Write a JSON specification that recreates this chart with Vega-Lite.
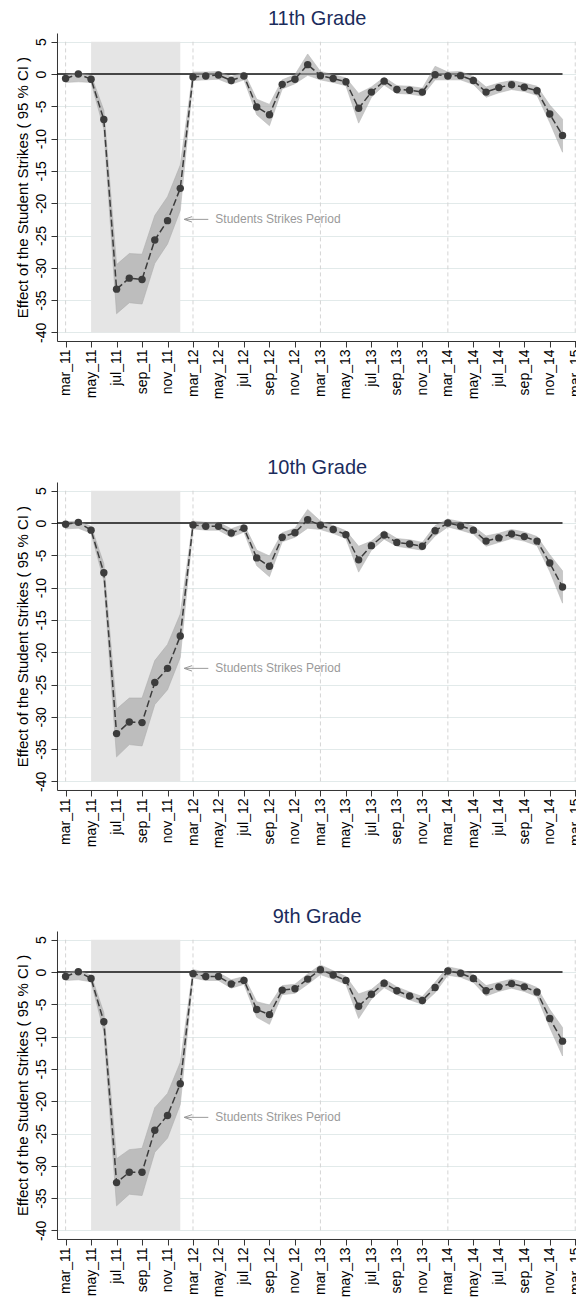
{
"$schema": "https://vega.github.io/schema/vega-lite/v6.json",
"usermeta": {"embedOptions": {"actions": false}},
"padding": {"left": 15, "top": 9, "right": -5, "bottom": 0},
"background": "white",
"spacing": 59,
"config": {
  "font": "Liberation Sans",
  "view": {"stroke": null},
  "axis": {"domainColor": "#333333", "tickColor": "#333333", "labelColor": "#000000", "titleColor": "#000000", "labelFontSize": 14, "titleFontSize": 15, "titleFontWeight": "normal", "gridColor": "#e2eaea", "gridWidth": 1, "labelOverlap": false, "labelSeparation": 0, "labelFlush": false}
},
"datasets": {
  "strike": [{"from": 2, "to": 9, "low": -40, "high": 5}],
  "marches": [{"t": 0}, {"t": 10}, {"t": 20}, {"t": 30}, {"t": 40}],
  "zero": [{"from": -0.675, "to": 39, "y": 0}],
  "note": [{"tip": 9.3, "tail": 11.2, "textAt": 11.75, "y": -22.5, "label": "Students Strikes Period"}],
  "est": [
    {"grade": "11th Grade", "month": "mar_11", "t": 0, "est": -0.7, "lo": -1.3, "hi": -0.1},
    {"grade": "11th Grade", "month": "apr_11", "t": 1, "est": 0.0, "lo": -1.2, "hi": 0.2},
    {"grade": "11th Grade", "month": "may_11", "t": 2, "est": -0.8, "lo": -1.3, "hi": -0.2},
    {"grade": "11th Grade", "month": "jun_11", "t": 3, "est": -7.05, "lo": -8.5, "hi": -5.6},
    {"grade": "11th Grade", "month": "jul_11", "t": 4, "est": -33.3, "lo": -37.1, "hi": -29.5},
    {"grade": "11th Grade", "month": "aug_11", "t": 5, "est": -31.6, "lo": -35.4, "hi": -27.8},
    {"grade": "11th Grade", "month": "sep_11", "t": 6, "est": -31.8, "lo": -35.6, "hi": -27.9},
    {"grade": "11th Grade", "month": "oct_11", "t": 7, "est": -25.7, "lo": -29.3, "hi": -21.9},
    {"grade": "11th Grade", "month": "nov_11", "t": 8, "est": -22.7, "lo": -26.3, "hi": -19.0},
    {"grade": "11th Grade", "month": "dec_11", "t": 9, "est": -17.7, "lo": -21.1, "hi": -14.1},
    {"grade": "11th Grade", "month": "mar_12", "t": 10, "est": -0.45, "lo": -1.0, "hi": 0.3},
    {"grade": "11th Grade", "month": "apr_12", "t": 11, "est": -0.3, "lo": -0.9, "hi": 0.3},
    {"grade": "11th Grade", "month": "may_12", "t": 12, "est": -0.15, "lo": -0.8, "hi": 0.4},
    {"grade": "11th Grade", "month": "jun_12", "t": 13, "est": -1.0, "lo": -1.6, "hi": -0.4},
    {"grade": "11th Grade", "month": "jul_12", "t": 14, "est": -0.3, "lo": -0.9, "hi": 0.3},
    {"grade": "11th Grade", "month": "aug_12", "t": 15, "est": -5.1, "lo": -6.3, "hi": -3.9},
    {"grade": "11th Grade", "month": "sep_12", "t": 16, "est": -6.3, "lo": -8.0, "hi": -4.7},
    {"grade": "11th Grade", "month": "oct_12", "t": 17, "est": -1.6, "lo": -2.3, "hi": -0.9},
    {"grade": "11th Grade", "month": "nov_12", "t": 18, "est": -0.8, "lo": -1.5, "hi": -0.1},
    {"grade": "11th Grade", "month": "dec_12", "t": 19, "est": 1.45, "lo": -0.2, "hi": 3.1},
    {"grade": "11th Grade", "month": "mar_13", "t": 20, "est": -0.25, "lo": -0.9, "hi": 0.4},
    {"grade": "11th Grade", "month": "apr_13", "t": 21, "est": -0.7, "lo": -1.3, "hi": -0.1},
    {"grade": "11th Grade", "month": "may_13", "t": 22, "est": -1.2, "lo": -1.8, "hi": -0.6},
    {"grade": "11th Grade", "month": "jun_13", "t": 23, "est": -5.3, "lo": -7.6, "hi": -3.0},
    {"grade": "11th Grade", "month": "jul_13", "t": 24, "est": -2.8, "lo": -3.6, "hi": -2.0},
    {"grade": "11th Grade", "month": "aug_13", "t": 25, "est": -1.1, "lo": -1.7, "hi": -0.5},
    {"grade": "11th Grade", "month": "sep_13", "t": 26, "est": -2.4, "lo": -3.0, "hi": -1.8},
    {"grade": "11th Grade", "month": "oct_13", "t": 27, "est": -2.5, "lo": -3.1, "hi": -1.9},
    {"grade": "11th Grade", "month": "nov_13", "t": 28, "est": -2.8, "lo": -3.4, "hi": -2.2},
    {"grade": "11th Grade", "month": "dec_13", "t": 29, "est": -0.1, "lo": -0.9, "hi": 1.2},
    {"grade": "11th Grade", "month": "mar_14", "t": 30, "est": -0.3, "lo": -0.9, "hi": 0.3},
    {"grade": "11th Grade", "month": "apr_14", "t": 31, "est": -0.25, "lo": -0.9, "hi": 0.4},
    {"grade": "11th Grade", "month": "may_14", "t": 32, "est": -1.0, "lo": -1.6, "hi": -0.4},
    {"grade": "11th Grade", "month": "jun_14", "t": 33, "est": -2.8, "lo": -3.6, "hi": -2.0},
    {"grade": "11th Grade", "month": "jul_14", "t": 34, "est": -2.1, "lo": -2.9, "hi": -1.4},
    {"grade": "11th Grade", "month": "aug_14", "t": 35, "est": -1.65, "lo": -2.4, "hi": -1.0},
    {"grade": "11th Grade", "month": "sep_14", "t": 36, "est": -2.05, "lo": -2.7, "hi": -1.4},
    {"grade": "11th Grade", "month": "oct_14", "t": 37, "est": -2.6, "lo": -3.3, "hi": -1.9},
    {"grade": "11th Grade", "month": "nov_14", "t": 38, "est": -6.2, "lo": -7.5, "hi": -4.8},
    {"grade": "11th Grade", "month": "dec_14", "t": 39, "est": -9.5, "lo": -12.1, "hi": -7.0},
    {"grade": "10th Grade", "month": "mar_11", "t": 0, "est": -0.2, "lo": -0.9, "hi": 0.2},
    {"grade": "10th Grade", "month": "apr_11", "t": 1, "est": 0.1, "lo": -0.8, "hi": 0.3},
    {"grade": "10th Grade", "month": "may_11", "t": 2, "est": -1.1, "lo": -1.6, "hi": -0.5},
    {"grade": "10th Grade", "month": "jun_11", "t": 3, "est": -7.7, "lo": -8.9, "hi": -6.3},
    {"grade": "10th Grade", "month": "jul_11", "t": 4, "est": -32.6, "lo": -36.2, "hi": -28.8},
    {"grade": "10th Grade", "month": "aug_11", "t": 5, "est": -30.8, "lo": -34.3, "hi": -27.1},
    {"grade": "10th Grade", "month": "sep_11", "t": 6, "est": -30.9, "lo": -34.5, "hi": -27.1},
    {"grade": "10th Grade", "month": "oct_11", "t": 7, "est": -24.7, "lo": -28.1, "hi": -21.3},
    {"grade": "10th Grade", "month": "nov_11", "t": 8, "est": -22.5, "lo": -25.8, "hi": -18.8},
    {"grade": "10th Grade", "month": "dec_11", "t": 9, "est": -17.5, "lo": -20.8, "hi": -14.1},
    {"grade": "10th Grade", "month": "mar_12", "t": 10, "est": -0.3, "lo": -0.9, "hi": 0.3},
    {"grade": "10th Grade", "month": "apr_12", "t": 11, "est": -0.5, "lo": -1.1, "hi": 0.1},
    {"grade": "10th Grade", "month": "may_12", "t": 12, "est": -0.5, "lo": -1.1, "hi": 0.1},
    {"grade": "10th Grade", "month": "jun_12", "t": 13, "est": -1.55, "lo": -2.2, "hi": -0.9},
    {"grade": "10th Grade", "month": "jul_12", "t": 14, "est": -0.8, "lo": -1.4, "hi": -0.2},
    {"grade": "10th Grade", "month": "aug_12", "t": 15, "est": -5.4, "lo": -6.6, "hi": -4.2},
    {"grade": "10th Grade", "month": "sep_12", "t": 16, "est": -6.7, "lo": -8.3, "hi": -5.1},
    {"grade": "10th Grade", "month": "oct_12", "t": 17, "est": -2.2, "lo": -2.9, "hi": -1.5},
    {"grade": "10th Grade", "month": "nov_12", "t": 18, "est": -1.5, "lo": -2.2, "hi": -0.8},
    {"grade": "10th Grade", "month": "dec_12", "t": 19, "est": 0.5, "lo": -0.8, "hi": 2.1},
    {"grade": "10th Grade", "month": "mar_13", "t": 20, "est": -0.35, "lo": -1.0, "hi": 0.3},
    {"grade": "10th Grade", "month": "apr_13", "t": 21, "est": -1.0, "lo": -1.6, "hi": -0.4},
    {"grade": "10th Grade", "month": "may_13", "t": 22, "est": -1.8, "lo": -2.4, "hi": -1.2},
    {"grade": "10th Grade", "month": "jun_13", "t": 23, "est": -5.7, "lo": -7.6, "hi": -3.6},
    {"grade": "10th Grade", "month": "jul_13", "t": 24, "est": -3.5, "lo": -4.2, "hi": -2.8},
    {"grade": "10th Grade", "month": "aug_13", "t": 25, "est": -1.85, "lo": -2.5, "hi": -1.2},
    {"grade": "10th Grade", "month": "sep_13", "t": 26, "est": -3.0, "lo": -3.6, "hi": -2.4},
    {"grade": "10th Grade", "month": "oct_13", "t": 27, "est": -3.25, "lo": -3.9, "hi": -2.6},
    {"grade": "10th Grade", "month": "nov_13", "t": 28, "est": -3.6, "lo": -4.2, "hi": -3.0},
    {"grade": "10th Grade", "month": "dec_13", "t": 29, "est": -1.2, "lo": -2.0, "hi": -0.4},
    {"grade": "10th Grade", "month": "mar_14", "t": 30, "est": 0.0, "lo": -0.6, "hi": 0.6},
    {"grade": "10th Grade", "month": "apr_14", "t": 31, "est": -0.45, "lo": -1.1, "hi": 0.2},
    {"grade": "10th Grade", "month": "may_14", "t": 32, "est": -1.1, "lo": -1.7, "hi": -0.5},
    {"grade": "10th Grade", "month": "jun_14", "t": 33, "est": -2.8, "lo": -3.6, "hi": -2.0},
    {"grade": "10th Grade", "month": "jul_14", "t": 34, "est": -2.3, "lo": -3.0, "hi": -1.6},
    {"grade": "10th Grade", "month": "aug_14", "t": 35, "est": -1.7, "lo": -2.4, "hi": -1.0},
    {"grade": "10th Grade", "month": "sep_14", "t": 36, "est": -2.1, "lo": -2.8, "hi": -1.4},
    {"grade": "10th Grade", "month": "oct_14", "t": 37, "est": -2.8, "lo": -3.5, "hi": -2.1},
    {"grade": "10th Grade", "month": "nov_14", "t": 38, "est": -6.2, "lo": -7.5, "hi": -4.9},
    {"grade": "10th Grade", "month": "dec_14", "t": 39, "est": -9.9, "lo": -12.4, "hi": -7.4},
    {"grade": "9th Grade", "month": "mar_11", "t": 0, "est": -0.7, "lo": -1.3, "hi": -0.1},
    {"grade": "9th Grade", "month": "apr_11", "t": 1, "est": 0.05, "lo": -1.2, "hi": 0.3},
    {"grade": "9th Grade", "month": "may_11", "t": 2, "est": -1.0, "lo": -1.5, "hi": -0.5},
    {"grade": "9th Grade", "month": "jun_11", "t": 3, "est": -7.7, "lo": -9.2, "hi": -6.3},
    {"grade": "9th Grade", "month": "jul_11", "t": 4, "est": -32.6, "lo": -36.2, "hi": -28.9},
    {"grade": "9th Grade", "month": "aug_11", "t": 5, "est": -31.0, "lo": -34.4, "hi": -27.5},
    {"grade": "9th Grade", "month": "sep_11", "t": 6, "est": -31.0, "lo": -34.6, "hi": -27.3},
    {"grade": "9th Grade", "month": "oct_11", "t": 7, "est": -24.5, "lo": -27.9, "hi": -21.0},
    {"grade": "9th Grade", "month": "nov_11", "t": 8, "est": -22.2, "lo": -25.7, "hi": -18.8},
    {"grade": "9th Grade", "month": "dec_11", "t": 9, "est": -17.3, "lo": -20.5, "hi": -14.0},
    {"grade": "9th Grade", "month": "mar_12", "t": 10, "est": -0.25, "lo": -0.9, "hi": 0.4},
    {"grade": "9th Grade", "month": "apr_12", "t": 11, "est": -0.7, "lo": -1.3, "hi": -0.1},
    {"grade": "9th Grade", "month": "may_12", "t": 12, "est": -0.7, "lo": -1.3, "hi": -0.1},
    {"grade": "9th Grade", "month": "jun_12", "t": 13, "est": -1.85, "lo": -2.5, "hi": -1.2},
    {"grade": "9th Grade", "month": "jul_12", "t": 14, "est": -1.3, "lo": -1.9, "hi": -0.7},
    {"grade": "9th Grade", "month": "aug_12", "t": 15, "est": -5.8, "lo": -7.0, "hi": -4.6},
    {"grade": "9th Grade", "month": "sep_12", "t": 16, "est": -6.6, "lo": -8.1, "hi": -5.1},
    {"grade": "9th Grade", "month": "oct_12", "t": 17, "est": -2.8, "lo": -3.5, "hi": -2.1},
    {"grade": "9th Grade", "month": "nov_12", "t": 18, "est": -2.6, "lo": -3.3, "hi": -1.9},
    {"grade": "9th Grade", "month": "dec_12", "t": 19, "est": -1.1, "lo": -1.9, "hi": -0.3},
    {"grade": "9th Grade", "month": "mar_13", "t": 20, "est": 0.35, "lo": -0.4, "hi": 1.1},
    {"grade": "9th Grade", "month": "apr_13", "t": 21, "est": -0.45, "lo": -1.1, "hi": 0.2},
    {"grade": "9th Grade", "month": "may_13", "t": 22, "est": -1.3, "lo": -1.9, "hi": -0.7},
    {"grade": "9th Grade", "month": "jun_13", "t": 23, "est": -5.3, "lo": -7.2, "hi": -3.4},
    {"grade": "9th Grade", "month": "jul_13", "t": 24, "est": -3.45, "lo": -4.2, "hi": -2.7},
    {"grade": "9th Grade", "month": "aug_13", "t": 25, "est": -1.75, "lo": -2.4, "hi": -1.1},
    {"grade": "9th Grade", "month": "sep_13", "t": 26, "est": -2.9, "lo": -3.5, "hi": -2.3},
    {"grade": "9th Grade", "month": "oct_13", "t": 27, "est": -3.7, "lo": -4.3, "hi": -3.1},
    {"grade": "9th Grade", "month": "nov_13", "t": 28, "est": -4.4, "lo": -5.0, "hi": -3.8},
    {"grade": "9th Grade", "month": "dec_13", "t": 29, "est": -2.4, "lo": -3.2, "hi": -1.6},
    {"grade": "9th Grade", "month": "mar_14", "t": 30, "est": 0.15, "lo": -0.5, "hi": 0.8},
    {"grade": "9th Grade", "month": "apr_14", "t": 31, "est": -0.2, "lo": -0.8, "hi": 0.4},
    {"grade": "9th Grade", "month": "may_14", "t": 32, "est": -1.0, "lo": -1.6, "hi": -0.4},
    {"grade": "9th Grade", "month": "jun_14", "t": 33, "est": -2.9, "lo": -3.7, "hi": -2.1},
    {"grade": "9th Grade", "month": "jul_14", "t": 34, "est": -2.3, "lo": -3.0, "hi": -1.6},
    {"grade": "9th Grade", "month": "aug_14", "t": 35, "est": -1.8, "lo": -2.5, "hi": -1.1},
    {"grade": "9th Grade", "month": "sep_14", "t": 36, "est": -2.3, "lo": -3.0, "hi": -1.6},
    {"grade": "9th Grade", "month": "oct_14", "t": 37, "est": -3.1, "lo": -3.8, "hi": -2.4},
    {"grade": "9th Grade", "month": "nov_14", "t": 38, "est": -7.2, "lo": -8.6, "hi": -5.8},
    {"grade": "9th Grade", "month": "dec_14", "t": 39, "est": -10.7, "lo": -13.0, "hi": -8.6}
  ]
},
"vconcat": [
  {
    "width": 520.3, "height": 308,
    "title": {"text": "11th Grade", "fontSize": 20, "fontWeight": "normal", "color": "#1b2c5c", "baseline": "alphabetic", "offset": -12.3},
    "layer": [
      {"data": {"name": "strike"}, "mark": {"type": "rect", "color": "#e5e5e5"},
       "encoding": {
         "x": {"field": "from", "type": "quantitative", "scale": {"domain": [-0.675, 40.16], "nice": false, "zero": false},
               "axis": {"title": null, "values": [0,2,4,6,8,10,12,14,16,18,20,22,24,26,28,30,32,34,36,38,40], "tickCount": 100, "labelExpr": "['mar','may','jul','sep','nov'][(datum.value/2)%5] + '_' + (11 + floor(datum.value/10))", "labelAngle": 270, "labelAlign": "right", "labelBaseline": "middle", "tickSize": 6, "labelPadding": 2, "grid": false, "labelOverlap": false, "labelFlush": false}},
         "x2": {"field": "to"},
         "y": {"field": "low", "type": "quantitative", "scale": {"domain": [-41.33, 6.35], "nice": false, "zero": false},
               "axis": {"title": "Effect of the Student Strikes ( 95 % CI )", "values": [-40,-35,-30,-25,-20,-15,-10,-5,0,5], "tickCount": 100, "labelExpr": "'' + datum.value", "grid": true, "labelAngle": 270, "labelAlign": "center", "labelBaseline": "alphabetic", "tickSize": 6, "labelPadding": 5.5, "titleX": -29, "titleY": 154, "titleAngle": 270, "titleAlign": "center", "titleBaseline": "alphabetic", "labelOverlap": false, "labelFlush": false}},
         "y2": {"field": "high"}}},
      {"data": {"name": "marches"}, "mark": {"type": "rule", "color": "#d4d4d4", "strokeDash": [4, 3], "strokeWidth": 1},
       "encoding": {"x": {"field": "t", "type": "quantitative"}, "y": {"datum": -40}, "y2": {"datum": 5}}},
      {"data": {"name": "zero"}, "mark": {"type": "rule", "color": "#111111", "strokeWidth": 1.5},
       "encoding": {"x": {"field": "from", "type": "quantitative"}, "x2": {"field": "to"}, "y": {"field": "y", "type": "quantitative"}}},
      {"data": {"name": "est"}, "transform": [{"filter": "datum.grade == '11th Grade'"}],
       "mark": {"type": "area", "color": "#a3a3a3", "opacity": 0.6, "stroke": "#8a8a8a", "strokeWidth": 0.6},
       "encoding": {"x": {"field": "t", "type": "quantitative"}, "y": {"field": "lo", "type": "quantitative"}, "y2": {"field": "hi"}}},
      {"data": {"name": "est"}, "transform": [{"filter": "datum.grade == '11th Grade'"}],
       "mark": {"type": "line", "color": "#3c3c3c", "strokeWidth": 1.5, "strokeDash": [7, 3]},
       "encoding": {"x": {"field": "t", "type": "quantitative"}, "y": {"field": "est", "type": "quantitative"}}},
      {"data": {"name": "est"}, "transform": [{"filter": "datum.grade == '11th Grade'"}],
       "mark": {"type": "point", "filled": true, "color": "#3c3c3c", "opacity": 1, "size": 55},
       "encoding": {"x": {"field": "t", "type": "quantitative"}, "y": {"field": "est", "type": "quantitative"}}},
      {"data": {"name": "note"}, "mark": {"type": "rule", "color": "#9a9a9a", "strokeWidth": 1},
       "encoding": {"x": {"field": "tip", "type": "quantitative"}, "x2": {"field": "tail"}, "y": {"field": "y", "type": "quantitative"}}},
      {"data": {"name": "note"}, "mark": {"type": "point", "shape": "M1.6,-0.55L0,0L1.6,0.55", "filled": false, "color": "#9a9a9a", "strokeWidth": 1, "opacity": 1, "size": 100},
       "encoding": {"x": {"field": "tip", "type": "quantitative"}, "y": {"field": "y", "type": "quantitative"}}},
      {"data": {"name": "note"}, "mark": {"type": "text", "align": "left", "baseline": "middle", "fontSize": 12, "color": "#9a9a9a"},
       "encoding": {"x": {"field": "textAt", "type": "quantitative"}, "y": {"field": "y", "type": "quantitative"}, "text": {"field": "label"}}}
    ]
  },
  {
    "width": 520.3, "height": 308,
    "title": {"text": "10th Grade", "fontSize": 20, "fontWeight": "normal", "color": "#1b2c5c", "baseline": "alphabetic", "offset": -12.3},
    "layer": [
      {"data": {"name": "strike"}, "mark": {"type": "rect", "color": "#e5e5e5"},
       "encoding": {
         "x": {"field": "from", "type": "quantitative", "scale": {"domain": [-0.675, 40.16], "nice": false, "zero": false},
               "axis": {"title": null, "values": [0,2,4,6,8,10,12,14,16,18,20,22,24,26,28,30,32,34,36,38,40], "tickCount": 100, "labelExpr": "['mar','may','jul','sep','nov'][(datum.value/2)%5] + '_' + (11 + floor(datum.value/10))", "labelAngle": 270, "labelAlign": "right", "labelBaseline": "middle", "tickSize": 6, "labelPadding": 2, "grid": false, "labelOverlap": false, "labelFlush": false}},
         "x2": {"field": "to"},
         "y": {"field": "low", "type": "quantitative", "scale": {"domain": [-41.33, 6.35], "nice": false, "zero": false},
               "axis": {"title": "Effect of the Student Strikes ( 95 % CI )", "values": [-40,-35,-30,-25,-20,-15,-10,-5,0,5], "tickCount": 100, "labelExpr": "'' + datum.value", "grid": true, "labelAngle": 270, "labelAlign": "center", "labelBaseline": "alphabetic", "tickSize": 6, "labelPadding": 5.5, "titleX": -29, "titleY": 154, "titleAngle": 270, "titleAlign": "center", "titleBaseline": "alphabetic", "labelOverlap": false, "labelFlush": false}},
         "y2": {"field": "high"}}},
      {"data": {"name": "marches"}, "mark": {"type": "rule", "color": "#d4d4d4", "strokeDash": [4, 3], "strokeWidth": 1},
       "encoding": {"x": {"field": "t", "type": "quantitative"}, "y": {"datum": -40}, "y2": {"datum": 5}}},
      {"data": {"name": "zero"}, "mark": {"type": "rule", "color": "#111111", "strokeWidth": 1.5},
       "encoding": {"x": {"field": "from", "type": "quantitative"}, "x2": {"field": "to"}, "y": {"field": "y", "type": "quantitative"}}},
      {"data": {"name": "est"}, "transform": [{"filter": "datum.grade == '10th Grade'"}],
       "mark": {"type": "area", "color": "#a3a3a3", "opacity": 0.6, "stroke": "#8a8a8a", "strokeWidth": 0.6},
       "encoding": {"x": {"field": "t", "type": "quantitative"}, "y": {"field": "lo", "type": "quantitative"}, "y2": {"field": "hi"}}},
      {"data": {"name": "est"}, "transform": [{"filter": "datum.grade == '10th Grade'"}],
       "mark": {"type": "line", "color": "#3c3c3c", "strokeWidth": 1.5, "strokeDash": [7, 3]},
       "encoding": {"x": {"field": "t", "type": "quantitative"}, "y": {"field": "est", "type": "quantitative"}}},
      {"data": {"name": "est"}, "transform": [{"filter": "datum.grade == '10th Grade'"}],
       "mark": {"type": "point", "filled": true, "color": "#3c3c3c", "opacity": 1, "size": 55},
       "encoding": {"x": {"field": "t", "type": "quantitative"}, "y": {"field": "est", "type": "quantitative"}}},
      {"data": {"name": "note"}, "mark": {"type": "rule", "color": "#9a9a9a", "strokeWidth": 1},
       "encoding": {"x": {"field": "tip", "type": "quantitative"}, "x2": {"field": "tail"}, "y": {"field": "y", "type": "quantitative"}}},
      {"data": {"name": "note"}, "mark": {"type": "point", "shape": "M1.6,-0.55L0,0L1.6,0.55", "filled": false, "color": "#9a9a9a", "strokeWidth": 1, "opacity": 1, "size": 100},
       "encoding": {"x": {"field": "tip", "type": "quantitative"}, "y": {"field": "y", "type": "quantitative"}}},
      {"data": {"name": "note"}, "mark": {"type": "text", "align": "left", "baseline": "middle", "fontSize": 12, "color": "#9a9a9a"},
       "encoding": {"x": {"field": "textAt", "type": "quantitative"}, "y": {"field": "y", "type": "quantitative"}, "text": {"field": "label"}}}
    ]
  },
  {
    "width": 520.3, "height": 308,
    "title": {"text": "9th Grade", "fontSize": 20, "fontWeight": "normal", "color": "#1b2c5c", "baseline": "alphabetic", "offset": -12.3},
    "layer": [
      {"data": {"name": "strike"}, "mark": {"type": "rect", "color": "#e5e5e5"},
       "encoding": {
         "x": {"field": "from", "type": "quantitative", "scale": {"domain": [-0.675, 40.16], "nice": false, "zero": false},
               "axis": {"title": null, "values": [0,2,4,6,8,10,12,14,16,18,20,22,24,26,28,30,32,34,36,38,40], "tickCount": 100, "labelExpr": "['mar','may','jul','sep','nov'][(datum.value/2)%5] + '_' + (11 + floor(datum.value/10))", "labelAngle": 270, "labelAlign": "right", "labelBaseline": "middle", "tickSize": 6, "labelPadding": 2, "grid": false, "labelOverlap": false, "labelFlush": false}},
         "x2": {"field": "to"},
         "y": {"field": "low", "type": "quantitative", "scale": {"domain": [-41.33, 6.35], "nice": false, "zero": false},
               "axis": {"title": "Effect of the Student Strikes ( 95 % CI )", "values": [-40,-35,-30,-25,-20,-15,-10,-5,0,5], "tickCount": 100, "labelExpr": "'' + datum.value", "grid": true, "labelAngle": 270, "labelAlign": "center", "labelBaseline": "alphabetic", "tickSize": 6, "labelPadding": 5.5, "titleX": -29, "titleY": 154, "titleAngle": 270, "titleAlign": "center", "titleBaseline": "alphabetic", "labelOverlap": false, "labelFlush": false}},
         "y2": {"field": "high"}}},
      {"data": {"name": "marches"}, "mark": {"type": "rule", "color": "#d4d4d4", "strokeDash": [4, 3], "strokeWidth": 1},
       "encoding": {"x": {"field": "t", "type": "quantitative"}, "y": {"datum": -40}, "y2": {"datum": 5}}},
      {"data": {"name": "zero"}, "mark": {"type": "rule", "color": "#111111", "strokeWidth": 1.5},
       "encoding": {"x": {"field": "from", "type": "quantitative"}, "x2": {"field": "to"}, "y": {"field": "y", "type": "quantitative"}}},
      {"data": {"name": "est"}, "transform": [{"filter": "datum.grade == '9th Grade'"}],
       "mark": {"type": "area", "color": "#a3a3a3", "opacity": 0.6, "stroke": "#8a8a8a", "strokeWidth": 0.6},
       "encoding": {"x": {"field": "t", "type": "quantitative"}, "y": {"field": "lo", "type": "quantitative"}, "y2": {"field": "hi"}}},
      {"data": {"name": "est"}, "transform": [{"filter": "datum.grade == '9th Grade'"}],
       "mark": {"type": "line", "color": "#3c3c3c", "strokeWidth": 1.5, "strokeDash": [7, 3]},
       "encoding": {"x": {"field": "t", "type": "quantitative"}, "y": {"field": "est", "type": "quantitative"}}},
      {"data": {"name": "est"}, "transform": [{"filter": "datum.grade == '9th Grade'"}],
       "mark": {"type": "point", "filled": true, "color": "#3c3c3c", "opacity": 1, "size": 55},
       "encoding": {"x": {"field": "t", "type": "quantitative"}, "y": {"field": "est", "type": "quantitative"}}},
      {"data": {"name": "note"}, "mark": {"type": "rule", "color": "#9a9a9a", "strokeWidth": 1},
       "encoding": {"x": {"field": "tip", "type": "quantitative"}, "x2": {"field": "tail"}, "y": {"field": "y", "type": "quantitative"}}},
      {"data": {"name": "note"}, "mark": {"type": "point", "shape": "M1.6,-0.55L0,0L1.6,0.55", "filled": false, "color": "#9a9a9a", "strokeWidth": 1, "opacity": 1, "size": 100},
       "encoding": {"x": {"field": "tip", "type": "quantitative"}, "y": {"field": "y", "type": "quantitative"}}},
      {"data": {"name": "note"}, "mark": {"type": "text", "align": "left", "baseline": "middle", "fontSize": 12, "color": "#9a9a9a"},
       "encoding": {"x": {"field": "textAt", "type": "quantitative"}, "y": {"field": "y", "type": "quantitative"}, "text": {"field": "label"}}}
    ]
  }
]
}
